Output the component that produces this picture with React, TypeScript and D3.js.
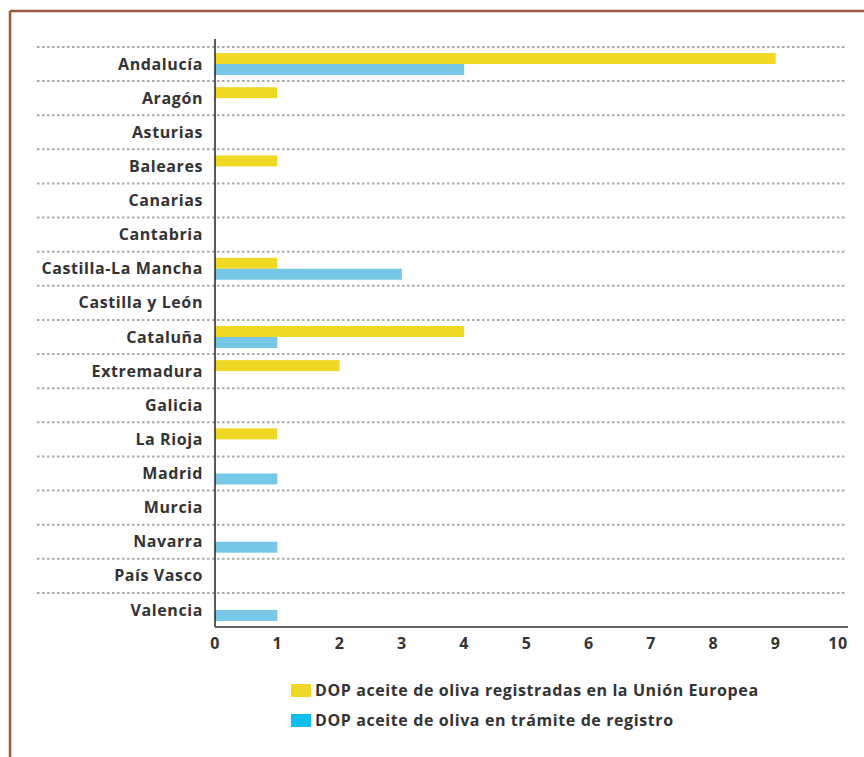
import React from "react";
import * as d3 from "d3";

const categories = ["Andalucía","Aragón","Asturias","Baleares","Canarias","Cantabria","Castilla-La Mancha","Castilla y León","Cataluña","Extremadura","Galicia","La Rioja","Madrid","Murcia","Navarra","País Vasco","Valencia"];
const registradas = [9,1,0,1,0,0,1,0,4,2,0,1,0,0,0,0,0];
const enTramite = [4,0,0,0,0,0,3,0,1,0,0,0,1,0,1,0,1];
const xTicks = [0,1,2,3,4,5,6,7,8,9,10];
const legendLabels = ["DOP aceite de oliva registradas en la Unión Europea","DOP aceite de oliva en trámite de registro"];

const W = 864, H = 757;
const left = 215, right = 838, top = 47, bottom = 627;
const font = "'Open Sans', sans-serif";

export default function App() {
  const x = d3.scaleLinear().domain([0, 10]).range([left, right]);
  const y = d3.scaleBand<string>().domain(categories).range([top, bottom]);
  const bh = 11;
  const txt = { fontFamily: font, fontWeight: 700, fontSize: 16, fill: "#333", letterSpacing: 0.6 } as const;
  return (
    <svg width={W} height={H} style={{ position: "absolute", left: 0, top: 0, background: "#fff" }}>
      <line x1={10} y1={11} x2={W} y2={11} stroke="#9a5a3c" strokeWidth={2.5} />
      <line x1={10} y1={11} x2={10} y2={H} stroke="#9a5a3c" strokeWidth={2.5} />
      {categories.map((c) => (
        <line key={"g" + c} x1={37} x2={845} y1={y(c)!} y2={y(c)!} stroke="#aaa" strokeWidth={2} strokeDasharray="2.5,2.5" />
      ))}
      {categories.map((c, i) => {
        const cy = y(c)! + y.bandwidth() / 2;
        return (
          <g key={c}>
            <rect x={x(0)} y={cy - bh} width={x(registradas[i]) - x(0)} height={bh} fill="#f0d924" />
            <rect x={x(0)} y={cy} width={x(enTramite[i]) - x(0)} height={bh} fill="#76c8e6" />
            <text x={203} y={cy} dy="0.35em" textAnchor="end" {...txt}>{c}</text>
          </g>
        );
      })}
      <line x1={x(0)} x2={x(0)} y1={39} y2={bottom} stroke="#222" strokeWidth={1.5} />
      <line x1={x(0)} x2={848} y1={bottom} y2={bottom} stroke="#666" strokeWidth={2} />
      {xTicks.map((t) => (
        <text key={t} x={x(t)} y={643} dy="0.35em" textAnchor="middle" {...txt}>{t}</text>
      ))}
      <rect x={291} y={684} width={20} height={13} fill="#f0d924" />
      <text x={315} y={690.5} dy="0.35em" {...txt}>{legendLabels[0]}</text>
      <rect x={291} y={714} width={20} height={13} fill="#0fbdf0" />
      <text x={315} y={720.5} dy="0.35em" {...txt}>{legendLabels[1]}</text>
    </svg>
  );
}
